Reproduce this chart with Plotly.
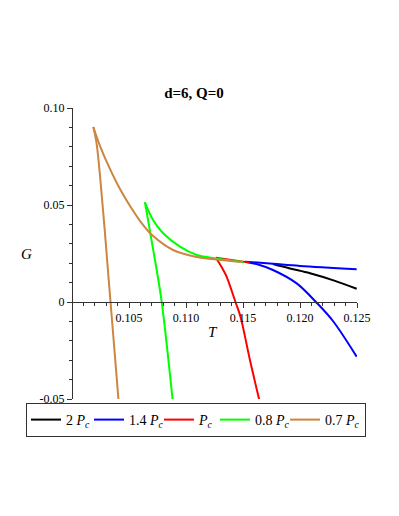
import plotly.graph_objects as go

# Gibbs free energy G against temperature T, one curve per pressure
labels = ["2 <i>P</i><sub><i>c</i></sub>", "1.4 <i>P</i><sub><i>c</i></sub>",
          "<i>P</i><sub><i>c</i></sub>", "0.8 <i>P</i><sub><i>c</i></sub>",
          "0.7 <i>P</i><sub><i>c</i></sub>"]
colors = ["#000000", "#0000FF", "#FF0000", "#00FF00", "#CD853F"]

T_2pc = [0.11763, 0.11912, 0.12088, 0.12307, 0.12497]
G_2pc = [0.0196, 0.0173, 0.0148, 0.0109, 0.0068]

T_14pc = [0.12497, 0.12289, 0.12140, 0.11971, 0.11763, 0.11632, 0.11518,
          0.11763, 0.12000, 0.12497]
G_14pc = [-0.0282, -0.0098, 0.0, 0.0096, 0.0165, 0.0193, 0.0208,
          0.0197, 0.0186, 0.0169]

T_pc = [0.11561, 0.11412, 0.11263, 0.11327, 0.11357, 0.11434, 0.11478,
        0.11561, 0.11643]
G_pc = [0.0203, 0.0215, 0.0228, 0.0165, 0.0130, 0.0, -0.0076,
        -0.0299, -0.0505]

T_08pc = [0.10883, 0.10787, 0.10743, 0.10640, 0.10711, 0.10798, 0.10947,
          0.11096, 0.11237, 0.11500]
G_08pc = [-0.0505, 0.0, 0.0165, 0.0514, 0.0423, 0.0356, 0.0285,
          0.0242, 0.0227, 0.0206]

T_07pc = [0.10408, 0.10338, 0.10320, 0.10272, 0.10215, 0.10187, 0.10246,
          0.10333, 0.10421, 0.10509, 0.10623, 0.10702, 0.10886, 0.11096,
          0.11272, 0.11482]
G_07pc = [-0.0505, 0.0, 0.0129, 0.0474, 0.0820, 0.0902, 0.0804,
          0.0686, 0.0582, 0.0495, 0.0397, 0.0345, 0.0268, 0.0232,
          0.0219, 0.0206]

# index of the cusp point in each series (None = single branch)
cusps = [None, 6, 2, 3, 5]

x_ticks = [0.105, 0.110, 0.115, 0.120, 0.125]
x_tick_text = ["0.105", "0.110", "0.115", "0.120", "0.125"]
y_ticks = [-0.05, 0.0, 0.05, 0.10]
y_tick_text = ["-0.05", "0", "0.05", "0.10"]

series = [(T_2pc, G_2pc), (T_14pc, G_14pc), (T_pc, G_pc),
          (T_08pc, G_08pc), (T_07pc, G_07pc)]

# legend entry widths (px) so the row fits in one box
legend_widths = [18, 25, 11, 25, 35]

serif = "Liberation Serif, Times New Roman, serif"

fig = go.Figure()
for i, ((t, g), name, col, k) in enumerate(zip(series, labels, colors, cusps)):
    if k is None:
        branches = [(t, g)]
    else:
        branches = [(t[:k + 1], g[:k + 1]), (t[k:], g[k:])]
    for j, (bt, bg) in enumerate(branches):
        fig.add_trace(go.Scatter(x=bt, y=bg, mode="lines", name=name,
                                 legendgroup=str(i), showlegend=(j == 0),
                                 legendwidth=legend_widths[i],
                                 line=dict(color=col, width=2,
                                           shape="spline", smoothing=1.0)))

fig.update_layout(
    width=399, height=516,
    margin=dict(l=64, r=50, t=100, b=125),
    paper_bgcolor="white", plot_bgcolor="white",
    font=dict(family=serif, size=12, color="black"),
    title=dict(text="<b>d=6, Q=0</b>", x=0.466, xref="container",
               xanchor="center",
               y=1 - 85 / 516, yref="container", yanchor="middle",
               font=dict(family=serif, size=15, color="black")),
    showlegend=True,
    legend=dict(orientation="h", x=-0.1614, y=-0.01375,
                xanchor="left", yanchor="top",
                bordercolor="#333333", borderwidth=1,
                font=dict(family=serif, size=14, color="black"),
                itemwidth=30, tracegroupgap=0),
)

fig.update_xaxes(
    range=[0.100, 0.125], anchor="free", position=1 / 3,
    showline=True, linecolor="#333333", linewidth=1,
    showgrid=False, zeroline=False,
    tickmode="array", tickvals=x_ticks, ticktext=x_tick_text,
    ticks="outside", ticklen=5, tickcolor="#333333",
    minor=dict(tickmode="linear", tick0=0.1, dtick=0.001,
               ticks="outside", ticklen=3, tickcolor="#333333",
               showgrid=False),
    tickfont=dict(family=serif, size=12, color="black"),
)
fig.update_yaxes(
    range=[-0.05, 0.10], anchor="free", position=0,
    showline=True, linecolor="#333333", linewidth=1,
    showgrid=False, zeroline=False,
    tickmode="array", tickvals=y_ticks, ticktext=y_tick_text,
    ticks="outside", ticklen=5, tickcolor="#333333",
    minor=dict(tickmode="linear", tick0=0.0, dtick=0.01,
               ticks="outside", ticklen=3, tickcolor="#333333",
               showgrid=False),
    tickfont=dict(family=serif, size=12, color="black"),
)

fig.add_annotation(text="<i>T</i>", x=0.495, y=0.230, xref="paper",
                   yref="paper", xanchor="center", yanchor="middle",
                   showarrow=False,
                   font=dict(family=serif, size=15, color="black"))
fig.add_annotation(text="<i>G</i>", x=-0.161, y=0.498, xref="paper",
                   yref="paper", xanchor="center", yanchor="middle",
                   showarrow=False,
                   font=dict(family=serif, size=15, color="black"))

fig.write_html("out.html")
